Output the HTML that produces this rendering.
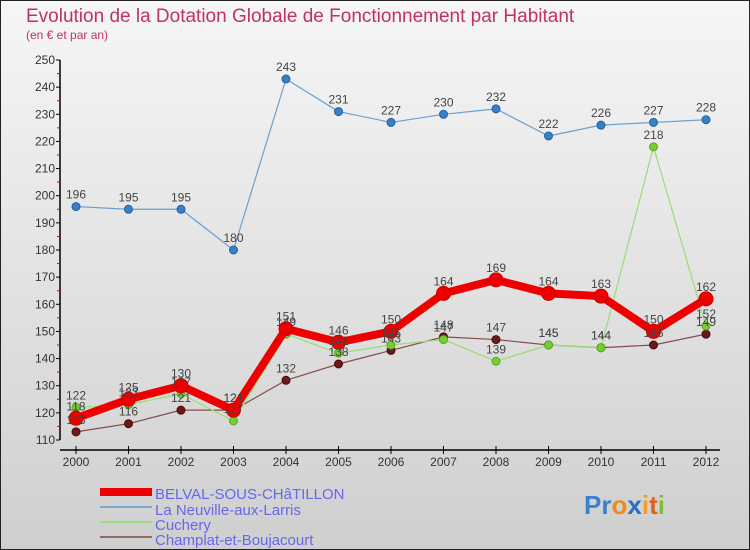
<!DOCTYPE html>
<html><head><meta charset="utf-8"><style>
html,body{margin:0;padding:0}
body{width:750px;height:550px;overflow:hidden;font-family:"Liberation Sans",sans-serif}
svg{display:block}
</style></head><body>
<svg id="c" width="750" height="550" xmlns="http://www.w3.org/2000/svg">
<defs><linearGradient id="bg" x1="0" y1="0" x2="0" y2="1"><stop offset="0" stop-color="#f6f6f6"/><stop offset="1" stop-color="#cfcfcf"/></linearGradient></defs>
<rect x="0.5" y="0.5" width="749" height="549" fill="url(#bg)" stroke="#222"/>
<text x="26" y="22" font-size="19" fill="#c0306a">Evolution de la Dotation Globale de Fonctionnement par Habitant</text>
<text x="26" y="39" font-size="12" fill="#c0306a">(en € et par an)</text>
<g id="axes"></g><g id="series"></g><g id="labels"></g>
<g>
<rect x="100" y="488" width="52" height="8" fill="#e00"/>
<text x="155" y="499" font-size="15" fill="#6666ee">BELVAL-SOUS-CHâTILLON</text>
<line x1="100" y1="507" x2="152" y2="507" stroke="#7aa8cc" stroke-width="2"/>
<text x="155" y="515" font-size="15" fill="#6666ee">La Neuville-aux-Larris</text>
<line x1="100" y1="522" x2="152" y2="522" stroke="#99dd77" stroke-width="2"/>
<text x="155" y="530" font-size="15" fill="#6666ee">Cuchery</text>
<line x1="100" y1="537" x2="152" y2="537" stroke="#996666" stroke-width="2"/>
<text x="155" y="545" font-size="15" fill="#6666ee">Champlat-et-Boujacourt</text>
</g>
<g font-size="26" font-weight="bold">
<text x="584" y="514"><tspan fill="#3a7fd0">Pr</tspan><tspan fill="#f08a20">o</tspan><tspan fill="#2a6fc0">x</tspan><tspan fill="#f0a020">i</tspan><tspan fill="#e06020">t</tspan><tspan fill="#80c030">i</tspan></text>
</g>
</svg>
<script>
const years=[2000,2001,2002,2003,2004,2005,2006,2007,2008,2009,2010,2011,2012];
const belval=[118,125,130,121,151,146,150,164,169,164,163,150,162];
const neuville=[196,195,195,180,243,231,227,230,232,222,226,227,228];
const cuchery=[122,123,127,117,149,142,145,147,139,145,144,218,152];
const champlat=[113,116,121,121,132,138,143,148,147,145,144,145,149];
const yTicks=[110,120,130,140,150,160,170,180,190,200,210,220,230,240,250];
const NS="http://www.w3.org/2000/svg";
function X(i){return 76+i*52.5;}
function Y(v){return 440-(v-110)*380/140;}
function mk(tag,attrs,parent){const e=document.createElementNS(NS,tag);for(const k in attrs)e.setAttribute(k,attrs[k]);parent.appendChild(e);return e;}
const ax=document.getElementById('axes'),sg=document.getElementById('series'),lg=document.getElementById('labels');
let yl=mk('line',{x1:60,y1:Y(250),x2:60,y2:Y(110),stroke:'#000','stroke-width':1.5},ax);


let xl=mk('line',{x1:60,y1:450,x2:720,y2:450,stroke:'#000','stroke-width':1.5},ax);


yTicks.forEach((t,i)=>{
  mk('line',{x1:56,y1:Y(t),x2:60,y2:Y(t),stroke:'#000'},ax);
  if(i<yTicks.length-1) mk('line',{x1:57,y1:Y(t+5),x2:60,y2:Y(t+5),stroke:'#e00'},ax);
  const tx=mk('text',{x:55,y:Y(t)+4,'font-size':12,'text-anchor':'end',fill:'#333'},ax);
  tx.textContent=t;
  
  
});
years.forEach((y,i)=>{
  mk('line',{x1:X(i),y1:446,x2:X(i),y2:454,stroke:'#000'},ax);
  const tx=mk('text',{x:X(i),y:466,'font-size':12,'text-anchor':'middle',fill:'#333'},ax);
  tx.textContent=y;
  
  
});
function series(data,name,color,w,r,dot,dotStroke){
  const g=mk('g',{},sg);
  
  
  const pl=mk('polyline',{points:data.map((v,i)=>X(i)+','+Y(v)).join(' '),fill:'none',stroke:color,'stroke-width':w,'stroke-linejoin':'round'},g);
  
  
  data.forEach((v,i)=>{
    const c=mk('circle',{cx:X(i),cy:Y(v),r:r,fill:dot,stroke:dotStroke,'stroke-width':1},g);
    
    
    const t=mk('text',{x:X(i),y:Y(v)-8,'font-size':12,'text-anchor':'middle',fill:'#444'},lg);
    t.textContent=v;
    
    
  });
}
series(champlat,'champlat','#8b4a4a',1.2,4,'#6a1a1a','#4a0a0a');
series(cuchery,'cuchery','#99dd77',1.2,4,'#77cc33','#55aa22');
series(neuville,'neuville','#6a9fcf',1.2,4,'#3a80c8','#2060a0');
series(belval,'belval','#ee0000',8,7,'#ee0000','#cc0000');
</script>
</body></html>
